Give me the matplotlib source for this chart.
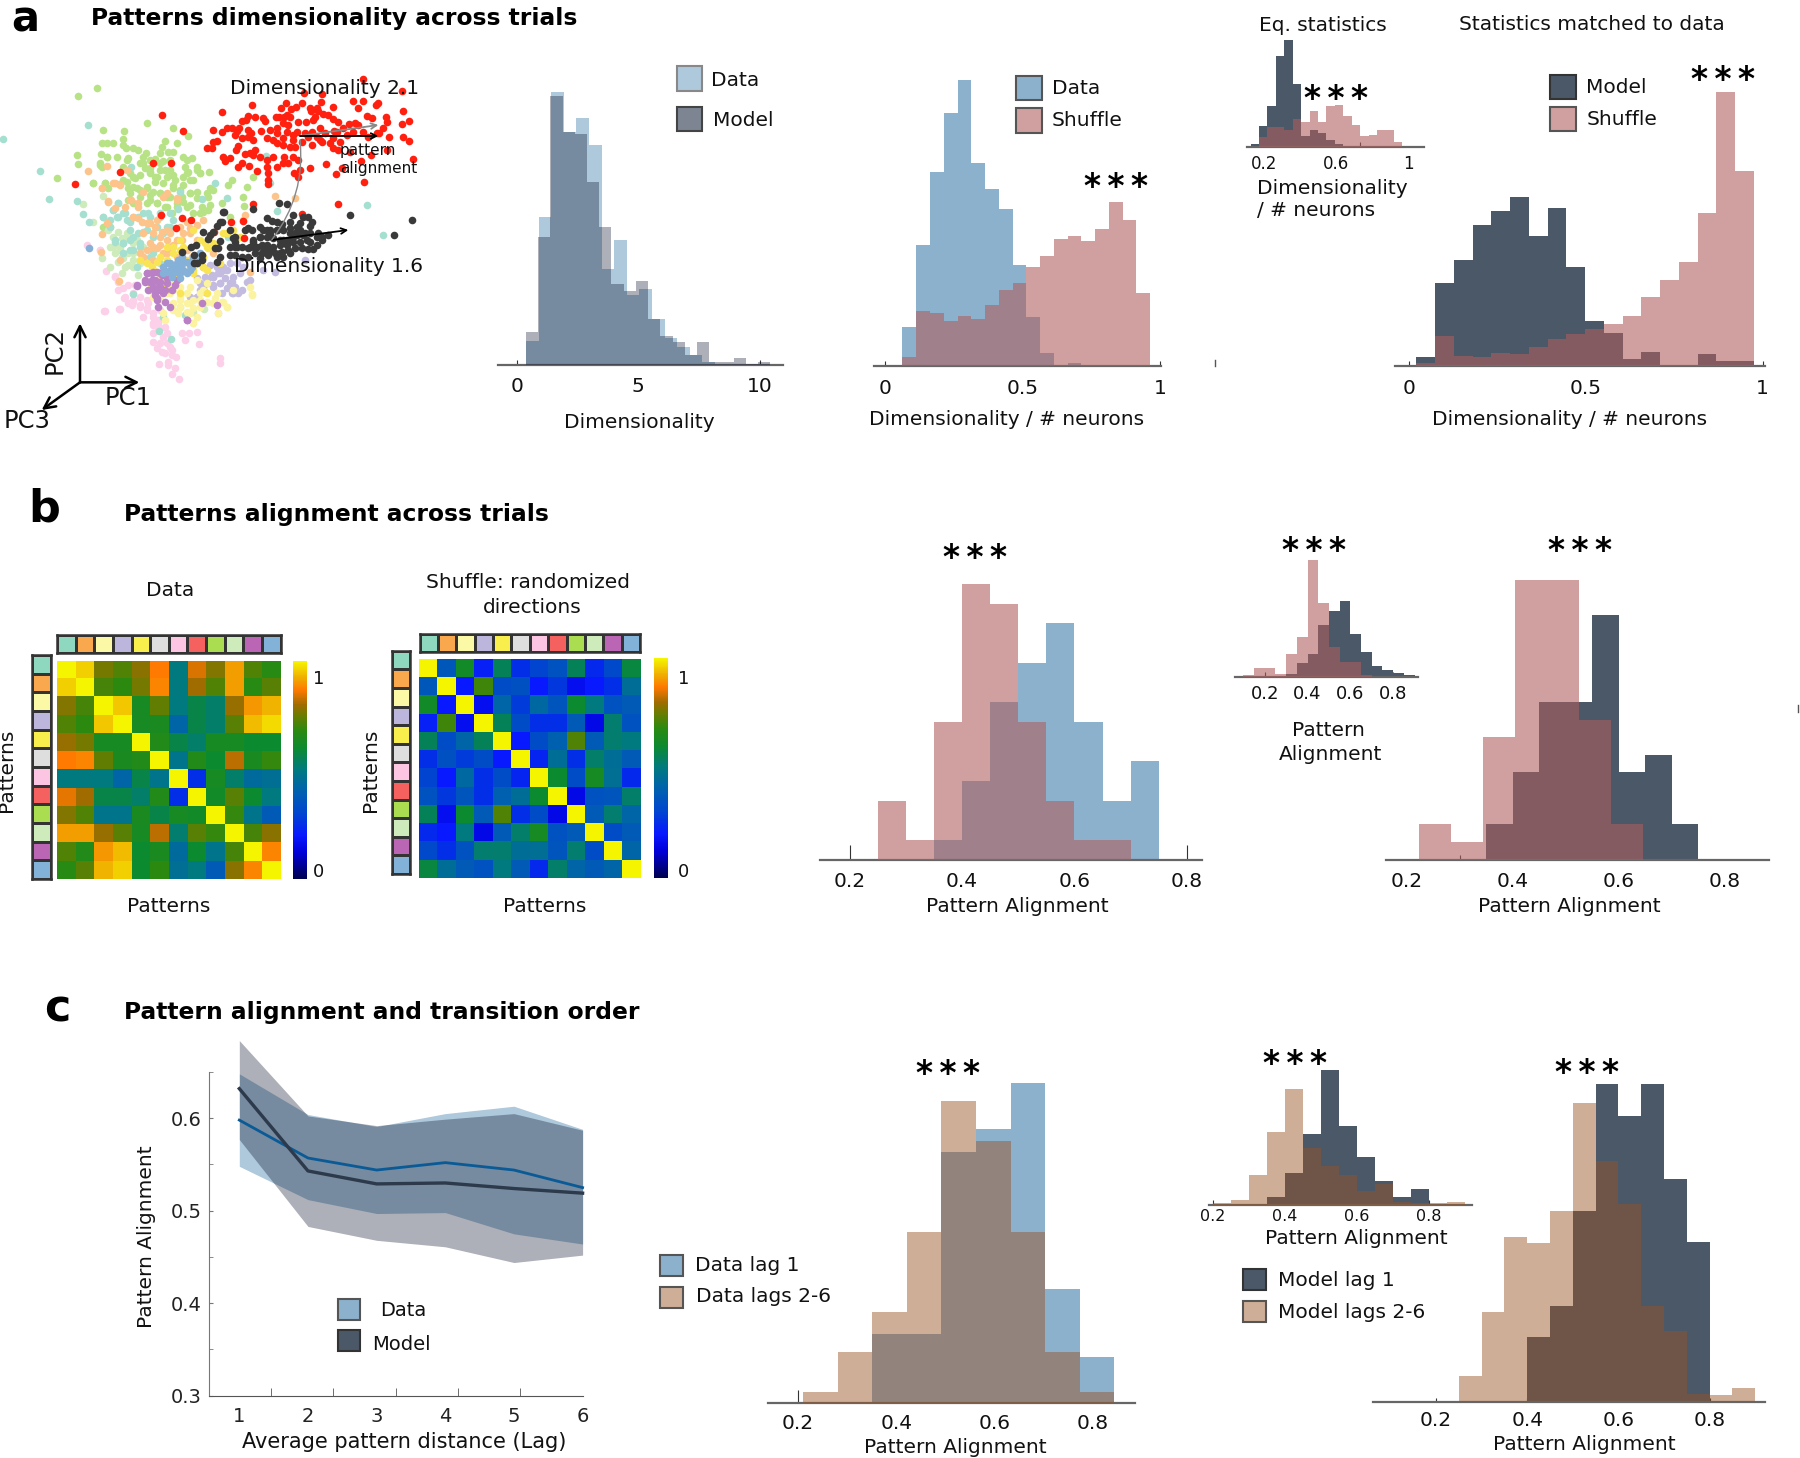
import matplotlib
matplotlib.use('Agg')
import matplotlib.pyplot as plt
import numpy as np
from matplotlib.colors import LinearSegmentedColormap, ListedColormap
from matplotlib.patches import Rectangle
from matplotlib.lines import Line2D

W, H = 1800, 1458

# ---- colours
BLUE = '#8cb1cc'
DARK = '#4a5868'
SHUF = '#af5e5e'
SHUF_A = 0.59
LAG = '#995324'
LAG_A = 0.47
PATTERN_COLORS = ['#8dd8bf', '#f9a84d', '#fbf8a6', '#bdb6dc', '#f8ef4c', '#dedede',
                  '#fcc5e2', '#f4615f', '#aadd4f', '#cdebbb', '#bb66b5', '#83b2d8']

# ---- panel a, PCA cloud (in zoomed picture units)
red_pts = [(485,345),(548,393),(460,489),(514,490),(361,516),(226,553),(482,644),(545,655),(573,660),(529,685),(643,695),(692,665),(728,662),(732,713),(758,613),(907,643),(1014,613),(1091,547),(1090,237),(1205,272),(913,280),(965,283),(1060,303),(1088,303),(1135,308),(1127,316),(1073,325),(1208,333),(1157,352),(1162,365),(1227,363),(1205,373),(1150,385),(1138,400),(1168,411),(1208,412),(1228,422),(1238,477),(1113,464),(977,492),(1007,523),(1025,505),(1082,483),(665,335),(756,315),(857,308),(906,310),(842,325),(872,328),(887,322),(930,325),(952,323),(998,322),(962,305),(932,332),(953,332),(968,341),(985,345),(1000,358),(1015,365),(945,352),(940,360),(919,365),(893,367),(860,345),(853,352),(838,352),(828,350),(788,353),(795,363),(765,350),(745,347),(738,360),(727,363),(680,384),(695,385),(640,390),(717,385),(712,393),(745,390),(752,400),(782,392),(810,390),(832,385),(848,370),(864,375),(830,400),(800,415),(820,420),(850,415),(880,405),(890,395),(915,400),(935,395),(960,385),(975,400),(1003,392),(1030,385),(1047,372),(1065,370),(1075,375),(1100,348),(1115,353),(1060,395),(1040,405),(1000,415),(960,420),(935,435),(965,425),(1000,445),(1015,450),(1050,455),(1160,450),(1105,410),(622,443),(637,444),(640,425),(650,423),(665,397),(705,405),(725,415),(715,437),(760,420),(745,412),(765,450),(750,458),(735,463),(708,450),(690,475),(675,482),(670,470),(725,490),(715,500),(748,498),(772,513),(800,480),(800,500),(803,520),(803,540),(805,553),(830,500),(850,490),(865,490),(852,470),(880,470),(895,480),(885,440),(900,510),(882,518),(895,530),(930,505),(850,435),(870,440),(870,350),(860,395),(830,430),(880,420),(905,425),(925,410),(950,410),(990,430),(1020,425),(760,465),(780,470),(820,470),(1130,400),(1090,395),(1010,395)]
black_pts = [(838,610),(860,612),(760,628),(672,637),(880,645),(1050,646),(1235,660),(1183,705),(985,705),(965,710),(660,665),(650,678),(638,695),(608,697),(630,705),(625,717),(588,735),(573,740),(545,757),(583,765),(605,765),(605,780),(583,790),(590,790),(650,787),(660,770),(655,745),(645,745),(660,722),(705,712),(705,725),(735,690),(755,690),(745,683),(800,655),(815,662),(830,665),(845,672),(870,685),(890,680),(910,650),(925,650),(935,665),(930,677),(780,680),(790,690),(810,690),(830,690),(850,690),(870,700),(890,705),(910,705),(930,700),(955,700),(965,720),(950,735),(925,748),(940,748),(905,745),(885,745),(865,750),(845,755),(825,760),(805,765),(785,760),(765,745),(745,745),(725,742),(705,742),(690,742),(690,765),(705,765),(725,770),(745,770),(765,760),(780,710),(800,710),(820,715),(840,720),(860,720),(880,725),(900,725),(920,720),(800,735),(820,740),(840,735),(860,735),(880,710),(900,690),(760,725),(785,735),(760,720),(780,710),(800,690),(810,700),(830,690),(850,720),(840,760),(815,750),(790,740),(770,740),(750,740),(710,740),(700,715),(690,690),(665,665),(670,635),(870,665),(885,700),(900,670),(915,700),(930,725),(950,710),(870,760),(850,770),(830,770),(800,750),(780,775),(790,755)]
green_pts = [(234,288),(290,265),(442,368),(310,389),(373,394),(519,385),(564,407),(369,416),(494,423),(305,430),(320,430),(340,428),(368,435),(378,445),(400,443),(415,450),(487,440),(530,430),(520,455),(505,455),(302,462),(232,465),(320,472),(350,470),(385,475),(437,458),(465,478),(490,482),(550,472),(575,473),(235,492),(300,490),(305,500),(380,480),(430,490),(450,505),(480,510),(510,510),(555,500),(565,515),(590,510),(600,520),(628,515),(170,533),(278,550),(315,550),(325,563),(380,545),(400,530),(420,525),(450,520),(470,530),(500,530),(520,525),(550,530),(570,540),(385,565),(410,565),(440,560),(465,545),(490,550),(520,555),(550,555),(590,575),(630,565),(640,570),(685,555),(695,540),(742,560),(760,532),(730,590),(732,618),(625,590),(605,620),(625,630),(600,640),(665,610),(690,650),(385,600),(420,590),(450,585),(480,580),(510,590),(545,590),(570,580),(400,610),(440,610),(470,610),(500,620),(530,610),(560,620),(580,640),(310,680),(330,680),(390,520),(405,535),(420,490),(435,505),(450,515),(465,530),(480,490),(495,510),(510,525),(525,540),(400,560),(420,570),(440,565),(460,575),(480,580),(500,590),(520,565),(540,570),(560,520),(580,540),(600,520),(570,580),(590,595),(620,580),(630,615),(610,635),(550,605),(570,615),(530,620),(450,600),(470,610),(495,620),(515,640),(560,480),(590,500),(510,480),(480,460),(450,480),(430,470),(300,495),(320,470),(280,550),(315,550),(370,540),(390,580),(370,500)]
teal_pts = [(10,417),(263,375),(121,514),(148,598),(231,603),(249,641),(266,665),(392,502),(645,548),(680,595),(830,632),(798,467),(810,550),(1100,614),(1148,704),(355,610),(340,630),(370,640),(350,650),(310,652),(380,660),(400,650),(430,640),(450,650),(480,640),(510,640),(535,627),(540,575),(605,598),(345,720),(370,730),(390,720),(415,700),(440,690),(470,680),(490,700),(510,680),(330,680),(420,730),(400,750),(430,770),(460,760),(480,790),(478,993),(513,1018),(398,882),(490,950),(555,945),(683,712),(410,800),(310,650),(340,630),(355,650),(375,640),(390,665),(415,650),(445,640),(355,610),(390,690),(370,730),(345,725),(390,750),(370,760),(430,695),(460,710),(420,740),(450,770),(500,680),(480,650),(520,660),(400,710),(330,660)]
pale_green_pts = [(250,612),(280,665),(308,588),(345,760),(365,770),(385,760),(355,785),(375,800),(400,780),(330,802),(305,773),(360,740),(380,700),(400,730),(430,740),(420,760),(612,928),(580,935),(540,920),(325,690),(340,710),(355,695),(365,715),(380,710),(410,720),(330,740),(360,750),(400,760),(385,795),(365,820),(400,800),(420,790),(415,825),(370,775),(340,740)]
orange_pts = [(265,512),(322,497),(305,565),(340,550),(357,553),(325,603),(392,600),(345,625),(375,622),(305,703),(302,757),(415,655),(440,670),(460,700),(480,710),(500,720),(520,735),(545,720),(570,700),(590,720),(430,700),(450,730),(470,745),(500,760),(530,770),(560,750),(430,575),(490,590),(530,600),(670,470),(825,588),(885,595),(735,645),(730,660),(610,660),(356,843),(750,815),(415,620),(470,660),(540,680),(450,670),(500,690),(420,760),(460,780),(575,770),(640,760),(305,565),(360,555),(390,600),(415,610),(425,665),(445,670),(465,680),(485,695),(510,700),(530,720),(550,700),(570,685),(510,740),(480,735),(530,595),(325,605),(500,580),(430,770),(440,750),(460,740),(490,760),(560,665),(590,675),(380,510),(345,550),(360,780),(320,670),(400,650)]
yellow_pts = [(480,770),(500,785),(440,790),(420,780),(520,760),(550,740),(600,720),(620,740),(640,730),(680,700),(700,690),(610,770),(660,790),(460,810),(540,720),(500,740),(580,690),(720,710),(450,850),(580,810),(620,810),(500,870),(540,880),(620,880),(520,740),(540,750),(560,780),(615,730),(610,770),(625,745),(500,780),(470,785),(455,800),(670,700),(655,740),(570,800),(540,790),(510,810),(450,870),(495,850),(525,830),(580,820),(610,800),(480,830)]
pale_yellow_pts = [(480,860),(510,880),(540,860),(570,860),(600,880),(650,880),(680,920),(757,882),(750,860),(580,970),(540,900),(570,910),(520,930),(600,920),(640,910),(560,935),(480,900),(460,890),(620,850),(590,840),(700,870),(665,905),(500,880),(520,870),(540,890),(560,880),(580,900),(520,910),(540,920),(560,910),(580,925),(600,900),(620,905),(645,895),(670,905),(680,920),(655,940),(580,970),(590,950),(570,940),(610,870),(510,850),(490,940),(495,960),(535,940),(755,885)]
lavender_pts = [(600,850),(620,840),(640,830),(660,820),(680,810),(700,830),(720,820),(690,850),(660,850),(640,860),(610,865),(700,880),(725,870),(740,845),(730,800),(825,815),(915,780),(710,790),(670,800),(690,790),(590,890),(640,830),(650,800),(790,810),(610,800),(630,795),(650,790),(670,810),(615,830),(635,825),(655,820),(675,835),(695,845),(620,850),(640,855),(660,850),(680,865),(705,860),(600,870),(570,890),(590,890),(615,875),(665,880),(695,880),(715,880),(750,840),(590,835)]
purple_pts = [(410,857),(440,820),(460,815),(480,820),(500,830),(435,845),(455,840),(475,845),(500,850),(525,855),(445,870),(465,875),(490,880),(515,870),(470,895),(495,905),(510,920),(562,960),(530,840),(480,860),(440,820),(455,820),(470,815),(485,825),(435,840),(450,845),(465,840),(480,845),(500,835),(460,860),(475,870),(465,885),(470,900),(495,870),(410,855),(475,920),(560,960),(650,915),(605,910)]
sky_pts = [(268,745),(490,800),(510,790),(530,790),(550,790),(570,795),(590,790),(510,810),(530,815),(550,810),(570,810),(515,830),(540,835),(490,820),(600,780),(580,775),(525,800),(545,770),(500,790),(520,800),(540,800),(560,785),(580,780),(500,815),(520,820),(540,820),(560,820),(600,760),(575,800),(535,780)]
pink_pts = [(262,735),(300,750),(317,813),(345,828),(355,870),(372,895),(400,905),(313,932),(358,927),(385,910),(420,915),(440,925),(655,938),(460,950),(460,975),(460,1000),(460,1025),(475,960),(480,985),(490,1010),(480,1030),(500,1000),(510,1040),(495,1060),(515,1065),(528,1070),(505,1085),(477,1093),(505,1095),(525,1105),(517,1122),(536,1138),(660,1073),(660,1090),(545,1000),(568,1000),(590,995),(597,1033),(555,1020),(470,1045),(485,1055),(500,1030),(515,1050),(400,880),(420,890),(440,900),(480,930),(300,750),(345,830),(355,845),(370,865),(375,890),(400,900),(395,915),(420,920),(440,930),(460,940),(460,970),(475,990),(475,970),(495,980),(315,932),(360,928),(405,855),(385,855),(430,950),(445,910)]

# ---- histogram heights, arbitrary count units
dim_data_start, dim_data_w = 0.38, 0.519
dim_data = [73,445,818,698,740,660,287,375,210,228,138,80,55,30,10]
dim_model_start, dim_model_w = 0.38, 0.503
dim_model = [98,385,808,698,692,548,413,242,222,252,138,87,70,30,69,10,10,22,3,10]

ratio_start, ratio_w = 0.0635, 0.0501
ratio_data = [116,363,581,758,858,610,531,471,303,146,38,0,8]
ratio_shuf = [28,166,158,135,150,141,183,228,248,298,330,380,391,376,412,492,438,218]

eq_start, eq_w = 0.126, 0.0466
eq_model = [9,63,123,272,320,187,32,50,40,20,7]
eq_shuf = [0,30,58,60,50,83,75,108,73,123,126,93,64,33,36,50,50,15]

match_start, match_w = 0.0216, 0.053
match_model = [28,248,318,423,466,508,390,473,298,135,98,22,43,0,0,36,16,16]
match_shuf = [8,90,31,26,40,36,56,81,96,111,127,150,206,258,311,460,823,586]

align_data_start, align_shuf_start, align_w = 0.35, 0.25, 0.05
align_data = [59,236,473,591,709,414,177,295]
align_shuf = [177,59,414,828,768,414,177,59,59]

align_eq_model_start, align_eq_shuf_start, align_eq_w = 0.30, 0.10, 0.05
align_eq_model = [10,42,69,155,197,229,129,74,34,21,12,7]
align_eq_shuf = [7,26,26,9,69,120,350,221,90,44,44,7]

align_m_model_start, align_m_model_w = 0.35, 0.05
align_m_model = [106,262,472,472,734,262,315,106]
align_m_shuf_start, align_m_shuf_w = 0.2234, 0.0603
align_m_shuf = [106,53,367,839,839,419,106]

lag_start, lag_w = 0.211, 0.0703
lag_data_1 = [0,3,205,205,751,820,958,341,136]
lag_data_26 = [33,153,273,512,905,785,512,153,33]

lag_eq_1_start, lag_eq_26_start, lag_eq_w = 0.35, 0.20, 0.05
lag_eq_1 = [24,95,213,405,238,143,72,23,47]
lag_eq_26 = [5,14,90,218,347,172,118,90,42,62,8,5,5,9]

lag_m_1_start, lag_m_26_start, lag_m_w = 0.40, 0.25, 0.05
lag_m_1 = [193,287,572,952,857,952,667,478]
lag_m_26 = [78,268,495,477,572,895,723,592,287,211,22,20,40]

# ---- panel c, line plot
lags = [1, 2, 3, 4, 5, 6]
data_mean = [.598, .557, .544, .552, .544, .525]
data_hi = [.648, .604, .591, .605, .613, .588]
data_lo = [.548, .512, .497, .498, .475, .464]
model_mean = [.632, .543, .529, .530, .524, .519]
model_hi = [.684, .6025, .592, .599, .605, .587]
model_lo = [.577, .483, .468, .461, .444, .452]

# ---- panel b, alignment matrices
align_data_matrix = [
    [1.0,.96,.76,.72,.78,.87,.50,.84,.77,.91,.72,.67],
    [.96,1.0,.71,.68,.76,.88,.50,.80,.72,.91,.67,.73],
    [.77,.71,1.0,.95,.63,.74,.50,.57,.53,.79,.90,.93],
    [.72,.68,.95,1.0,.63,.64,.42,.57,.53,.73,.94,.97],
    [.79,.76,.63,.63,1.0,.66,.57,.53,.63,.63,.60,.60],
    [.87,.88,.74,.64,.66,1.0,.48,.66,.60,.82,.64,.69],
    [.50,.50,.50,.42,.57,.48,1.0,.25,.63,.53,.44,.46],
    [.85,.80,.57,.57,.53,.66,.25,1.0,.62,.73,.60,.50],
    [.77,.72,.48,.48,.64,.57,.63,.62,1.0,.69,.48,.38],
    [.91,.91,.79,.73,.63,.82,.52,.73,.69,1.0,.71,.78],
    [.72,.66,.90,.94,.60,.64,.44,.60,.48,.71,1.0,.88],
    [.67,.73,.93,.96,.60,.68,.46,.50,.38,.78,.88,1.0]]
align_shuffle_matrix = [
    [1.0,.37,.62,.22,.55,.25,.30,.35,.55,.24,.32,.58],
    [.37,1.0,.20,.70,.33,.34,.20,.27,.17,.20,.25,.45],
    [.62,.20,1.0,.17,.42,.28,.43,.36,.60,.50,.35,.38],
    [.22,.70,.17,1.0,.55,.33,.25,.25,.38,.15,.52,.35],
    [.55,.33,.42,.55,1.0,.20,.33,.40,.72,.38,.52,.50],
    [.25,.34,.28,.33,.20,1.0,.23,.45,.25,.53,.45,.38],
    [.30,.20,.43,.25,.33,.23,1.0,.60,.33,.63,.46,.24],
    [.35,.27,.36,.25,.40,.45,.60,1.0,.15,.35,.36,.53],
    [.55,.17,.60,.38,.72,.25,.33,.15,1.0,.38,.52,.42],
    [.24,.20,.50,.15,.38,.53,.63,.35,.38,1.0,.33,.38],
    [.32,.25,.35,.52,.52,.45,.46,.36,.52,.33,1.0,.42],
    [.58,.45,.38,.35,.50,.38,.24,.53,.42,.38,.42,1.0]]

heat_cmap = LinearSegmentedColormap.from_list('heat', [
    (0.0, '#000050'), (0.12, '#0000d8'), (0.2, '#0818ff'), (0.3, '#0045d0'), (0.4, '#0060b0'),
    (0.5, '#007a80'), (0.6, '#0c8a30'), (0.68, '#2a8a10'), (0.75, '#6a7d00'),
    (0.80, '#a06c00'), (0.87, '#ff7a00'), (0.92, '#f0a800'), (1.0, '#f5f500')])

fig = plt.figure(figsize=(W / 100, H / 100), dpi=100)


def axes_px(x0, y0, x1, y1):
    ax = fig.add_axes([x0 / W, 1 - y1 / H, (x1 - x0) / W, (y1 - y0) / H])
    ax.patch.set_alpha(0)
    return ax


def txt(x, y, s, size=14.5, ha='center', **kw):
    # va center sits a little high on these fonts
    return fig.text(x / W, 1 - (y + 2) / H, s, ha=ha, va='center', fontsize=size,
                    color=kw.pop('color', '#111111'), **kw)


def letter(x, base, s, size=32):
    fig.text(x / W, 1 - base / H, s, ha='left', va='baseline', fontsize=size, fontweight='bold', color='black')


def stars(x, y, size=23.5):
    fig.text(x / W, 1 - (y + size * 0.72) / H, '*\u2009*\u2009*', ha='center', va='baseline', fontsize=size,
             fontweight='bold', color='black')


def swatch(x0, y0, x1, y1, color, edge='#555555'):
    fig.add_artist(Rectangle((x0 / W, 1 - y1 / H), (x1 - x0) / W, (y1 - y0) / H, transform=fig.transFigure,
                             facecolor=color, edgecolor=edge, linewidth=1.5))


def hist_axes(x0, x1, base, top, ref_px, ref_val, px_per_unit, ticks, labels, size=14.5, tick_len=5,
              pad=9, minor=None):
    ax = axes_px(x0, top, x1, base)
    ax.set_xlim(ref_val + (x0 - ref_px) / px_per_unit, ref_val + (x1 - ref_px) / px_per_unit)
    ax.set_ylim(0, (base - top) * 3)
    for s in ['top', 'left', 'right']:
        ax.spines[s].set_visible(False)
    ax.spines['bottom'].set_color('#666666')
    ax.spines['bottom'].set_linewidth(1.6)
    ax.set_yticks([])
    ax.set_xticks(ticks)
    ax.set_xticklabels(labels, fontsize=size, color='#111111')
    if minor is not None:
        ax.set_xticks(minor, minor=True)
        ax.tick_params(axis='x', which='minor', direction='in', length=tick_len * 0.72, width=0.8, color='#333333')
        ax.tick_params(axis='x', which='major', length=0, pad=pad)
    else:
        ax.tick_params(axis='x', direction='in', length=tick_len * 0.72, width=0.8, color='#333333', pad=pad)
    return ax


def steps(ax, start, width, heights, color, alpha=1.0, z=2):
    edges = [start + width * i for i in range(len(heights) + 1)]
    ax.stairs(heights, edges, fill=True, color=color, alpha=alpha, linewidth=0, zorder=z)


# ---- titles and panel letters
letter(11, 31, 'a', size=30)
letter(28, 521, 'b')
letter(44, 1021, 'c')
txt(91, 17, 'Patterns dimensionality across trials', size=16.8, ha='left', fontweight='bold', color='black')
txt(124, 513, 'Patterns alignment across trials', size=16.8, ha='left', fontweight='bold', color='black')
txt(124, 1011, 'Pattern alignment and transition order', size=16.8, ha='left', fontweight='bold', color='black')

# ---- panel a, scatter
ax = axes_px(0, 0, 480, 450)
ax.set_xlim(0, 1440)
ax.set_ylim(1350, 0)
ax.axis('off')
clouds = [(pink_pts, '#fcd0e8'), (green_pts, '#b7e386'), (pale_green_pts, '#cdebbb'), (teal_pts, '#a5dfd0'),
          (orange_pts, '#fcc48a'), (lavender_pts, '#c3bbe0'), (pale_yellow_pts, '#fbf3a0'), (yellow_pts, '#f8e455'),
          (purple_pts, '#b980c5'), (sky_pts, '#85b0d8'), (red_pts, '#ff2010'), (black_pts, '#3a3a3a')]
for pts, c in clouds:
    xs, ys = zip(*pts)
    ax.scatter(xs, ys, s=30, color=c, linewidths=0)
for p0, p1, c in [((900, 408), (1135, 375), '#888888'), ((900, 408), (1135, 408), 'black'),
                  ((815, 720), (1045, 690), 'black')]:
    ax.annotate('', xy=p1, xytext=p0, arrowprops=dict(arrowstyle='->', color=c, lw=1.3, shrinkA=0, shrinkB=0))
ax.annotate('', xy=(815, 720), xytext=(900, 420),
            arrowprops=dict(arrowstyle='-', color='#888888', lw=1, connectionstyle='arc3,rad=-0.2', shrinkA=0, shrinkB=0))
for p1 in [(240, 970), (418, 1147), (125, 1230)]:
    ax.annotate('', xy=p1, xytext=(240, 1147), arrowprops=dict(arrowstyle='->', color='black', lw=1.8,
                                                               mutation_scale=20, shrinkA=0, shrinkB=0))
txt(325, 86, 'Dimensionality 2.1', size=14.5)
txt(328, 265, 'Dimensionality 1.6', size=14.5)
txt(340, 148, 'pattern', size=11, ha='left')
txt(340, 166, 'alignment', size=11, ha='left')
txt(55, 348, 'PC2', size=17.5, rotation=90)
txt(128, 396, 'PC1', size=17.5)
txt(27, 419, 'PC3', size=17.5)

# ---- panel a, histograms
ax = hist_axes(498, 783, 365, 60, 516.7, 0, 24.3, [0, 5, 10], ['0', '5', '10'])
steps(ax, dim_data_start, dim_data_w, dim_data, '#aec8dc')
steps(ax, dim_model_start, dim_model_w, dim_model, '#000a22', alpha=0.32, z=3)
txt(639, 420, 'Dimensionality')
swatch(676.5, 66, 701.8, 90.7, '#aec8dc', '#888888')
swatch(677, 106.7, 702, 131, '#7d8593', '#444444')
txt(711, 79, 'Data', ha='left')
txt(713, 119, 'Model', ha='left')

ax = hist_axes(874, 1161, 366, 60, 885, 0, 274.8, [0, 0.5, 1], ['0', '0.5', '1'])
steps(ax, ratio_start, ratio_w, ratio_data, BLUE)
steps(ax, ratio_start, ratio_w, ratio_shuf, SHUF, alpha=SHUF_A, z=3)
stars(1116, 180)
txt(1007, 417.5, 'Dimensionality / # neurons')
swatch(1015.8, 76, 1041.5, 100, BLUE)
swatch(1015.8, 108, 1041.5, 132.7, '#d0a0a0')
txt(1051.6, 86, 'Data', ha='left')
txt(1051.6, 118.5, 'Shuffle', ha='left')

ax = hist_axes(1247, 1424, 146.7, 30, 1264, 0.2, 180.8, [0.2, 0.6, 1], ['0.2', '0.6', '1'], size=12, pad=6,
               minor=[0.2, 0.467, 0.733, 1.0])
steps(ax, eq_start, eq_w, eq_model, DARK)
steps(ax, eq_start, eq_w, eq_shuf, SHUF, alpha=SHUF_A, z=3)
stars(1336, 92)
txt(1322.5, 23.5, 'Eq. statistics')
txt(1256.6, 186.5, 'Dimensionality', ha='left')
txt(1256.6, 208.5, '/ # neurons', ha='left')

ax = hist_axes(1395, 1765, 366, 60, 1408.6, 0, 354, [0, 0.5, 1], ['0', '0.5', '1'])
steps(ax, match_start, match_w, match_model, DARK)
steps(ax, match_start, match_w, match_shuf, SHUF, alpha=SHUF_A, z=3)
stars(1723, 73)
txt(1592, 22.5, 'Statistics matched to data')
txt(1570, 417.5, 'Dimensionality / # neurons')
swatch(1550, 75, 1576, 99, DARK, '#333333')
swatch(1550, 107, 1576, 131, '#d0a0a0')
txt(1586.5, 85.5, 'Model', ha='left')
txt(1586.5, 117.5, 'Shuffle', ha='left')
fig.add_artist(Line2D([1215 / W, 1215 / W], [1 - 360 / H, 1 - 366 / H], color='#555555', lw=1))
fig.add_artist(Line2D([1798 / W, 1798 / W], [1 - 705 / H, 1 - 712 / H], color='#555555', lw=1))


# ---- panel b, matrices
def strips(top_box, left_box):
    for box, grid in [(top_box, np.arange(12)[None, :]), (left_box, np.arange(12)[:, None])]:
        ax = axes_px(*box)
        ax.pcolormesh(grid, cmap=ListedColormap(PATTERN_COLORS), edgecolors='#333333', linewidth=0.8)
        ax.invert_yaxis()
        ax.set_xticks([])
        ax.set_yticks([])
        for s in ax.spines.values():
            s.set_color('#333333')
            s.set_linewidth(1.8)


for matrix, box, cbox, tb, lb, cx in [
        (align_data_matrix, (57, 661, 280.5, 879), (293, 661, 306.7, 879), (57, 635, 280.5, 653), (32, 655, 50.5, 879), 313),
        (align_shuffle_matrix, (418.7, 659.3, 640, 877.7), (654, 658, 668, 877.7), (419.6, 634, 640, 652), (392, 650.7, 410.5, 874), 678)]:
    ax = axes_px(*box)
    im = ax.imshow(matrix, cmap=heat_cmap, vmin=0, vmax=1, aspect='auto', interpolation='nearest')
    ax.set_xticks([])
    ax.set_yticks([])
    for s in ax.spines.values():
        s.set_visible(False)
    cax = axes_px(*cbox)
    cb = fig.colorbar(im, cax=cax)
    cb.set_ticks([])
    cb.outline.set_visible(False)
    strips(tb, lb)
    txt(cx, 677, '1', ha='left', size=13)
    txt(cx, 870, '0', ha='left', size=13)
txt(170, 589, 'Data')
txt(528, 580.7, 'Shuffle: randomized')
txt(532, 605.7, 'directions')
txt(168.5, 904.7, 'Patterns')
txt(545, 904.7, 'Patterns')
txt(7, 768, 'Patterns', rotation=90)
txt(371, 768, 'Patterns', rotation=90)

# ---- panel b, histograms
ax = hist_axes(820, 1201.6, 859.7, 560, 849.6, 0.2, 562, [0.2, 0.4, 0.6, 0.8], ['0.2', '0.4', '0.6', '0.8'],
               tick_len=15, pad=9)
ax.tick_params(axis='x', zorder=5)
steps(ax, align_data_start, align_w, align_data, BLUE)
steps(ax, align_shuf_start, align_w, align_shuf, SHUF, alpha=SHUF_A, z=3)
stars(975, 551)
txt(1017.5, 905, 'Pattern Alignment')

ax = hist_axes(1235, 1417.6, 677, 550, 1264.7, 0.2, 214, [0.2, 0.4, 0.6, 0.8], ['0.2', '0.4', '0.6', '0.8'],
               size=13, pad=6)
steps(ax, align_eq_model_start, align_eq_w, align_eq_model, DARK)
steps(ax, align_eq_shuf_start, align_eq_w, align_eq_shuf, SHUF, alpha=SHUF_A, z=3)
stars(1313.5, 544)
txt(1328, 728, 'Pattern')
txt(1331, 753, 'Alignment')

ax = hist_axes(1386, 1769, 859.7, 560, 1407, 0.2, 529, [0.2, 0.4, 0.6, 0.8], ['0.2', '0.4', '0.6', '0.8'], pad=9,
               minor=[0.2, 0.3, 0.4, 0.5, 0.6, 0.7, 0.8])
steps(ax, align_m_model_start, align_m_model_w, align_m_model, DARK)
steps(ax, align_m_shuf_start, align_m_shuf_w, align_m_shuf, SHUF, alpha=SHUF_A, z=3)
stars(1580, 544)
txt(1569, 905, 'Pattern Alignment')

# ---- panel c, line plot
ax = axes_px(208.8, 1035, 582.6, 1395.7)
ax.set_xlim(1 - 92 / 207, 6)
ax.set_ylim(0.3, 0.69)
ax.fill_between(lags, data_lo, data_hi, color='#aec8dc', linewidth=0, clip_on=False)
ax.fill_between(lags, model_lo, model_hi, color='#000a22', alpha=0.32, linewidth=0, clip_on=False)
ax.plot(lags, data_mean, color='#0a5a96', lw=2, clip_on=False)
ax.plot(lags, model_mean, color='#2c3a4c', lw=2.4, clip_on=False)
for s in ['top', 'right']:
    ax.spines[s].set_visible(False)
ax.spines['left'].set_bounds(0.3, 0.65)
ax.spines['left'].set_color('#777777')
ax.spines['bottom'].set_color('#555555')
ax.set_yticks([0.3, 0.4, 0.5, 0.6])
ax.set_yticklabels(['0.3', '0.4', '0.5', '0.6'], fontsize=14, color='#222222')
ax.set_yticks([0.35, 0.45, 0.55, 0.65], minor=True)
ax.set_xticks(lags)
ax.set_xticklabels(['1', '2', '3', '4', '5', '6'], fontsize=14, color='#222222')
ax.set_xticks([1.46, 2.37, 3.275, 4.18, 5.09, 6.0], minor=True)
ax.tick_params(axis='x', which='major', length=0, pad=8)
ax.tick_params(axis='x', which='minor', direction='in', length=6, color='#555555')
ax.tick_params(axis='y', which='both', direction='in', length=3, color='#777777', pad=5)
txt(147, 1234.7, 'Pattern Alignment', rotation=90)
txt(404, 1440, 'Average pattern distance (Lag)', size=15)
swatch(338, 1299, 360, 1320, BLUE)
swatch(338, 1330, 360, 1351, DARK, '#333333')
txt(380, 1309, 'Data', ha='left', size=14)
txt(372.6, 1342, 'Model', ha='left', size=14)

# ---- panel c, histograms
ax = hist_axes(768, 1134.6, 1402.7, 1060, 798, 0.2, 491, [0.2, 0.4, 0.6, 0.8], ['0.2', '0.4', '0.6', '0.8'],
               tick_len=13, pad=8)
steps(ax, lag_start, lag_w, lag_data_1, BLUE)
steps(ax, lag_start, lag_w, lag_data_26, LAG, alpha=LAG_A, z=3)
stars(948, 1067)
txt(955, 1445.7, 'Pattern Alignment')
swatch(660, 1255, 682.5, 1276, BLUE)
swatch(660, 1286.7, 682.5, 1307.7, '#cfae98')
txt(694.6, 1263.5, 'Data lag 1', ha='left', size=14.5)
txt(696, 1295, 'Data lags 2-6', ha='left', size=14.5)

ax = hist_axes(1208.7, 1472, 1205, 1060, 1212.6, 0.2, 360, [0.2, 0.4, 0.6, 0.8], ['0.2', '0.4', '0.6', '0.8'],
               size=11.5, pad=3)
steps(ax, lag_eq_1_start, lag_eq_w, lag_eq_1, DARK)
steps(ax, lag_eq_26_start, lag_eq_w, lag_eq_26, LAG, alpha=LAG_A, z=3)
stars(1295, 1057)
txt(1356, 1236, 'Pattern Alignment')
swatch(1243, 1269, 1266, 1290, DARK, '#333333')
swatch(1243, 1300.7, 1266, 1322, '#cfae98')
txt(1278, 1278, 'Model lag 1', ha='left', size=14.5)
txt(1278, 1310, 'Model lags 2-6', ha='left', size=14.5)

ax = hist_axes(1373, 1765, 1401.7, 1060, 1436, 0.2, 456, [0.2, 0.4, 0.6, 0.8], ['0.2', '0.4', '0.6', '0.8'],
               tick_len=4, pad=7)
steps(ax, lag_m_1_start, lag_m_w, lag_m_1, DARK)
steps(ax, lag_m_26_start, lag_m_w, lag_m_26, LAG, alpha=LAG_A, z=3)
stars(1587, 1066)
txt(1584, 1442, 'Pattern Alignment')

fig.savefig('out.png', dpi=100, facecolor='white')
